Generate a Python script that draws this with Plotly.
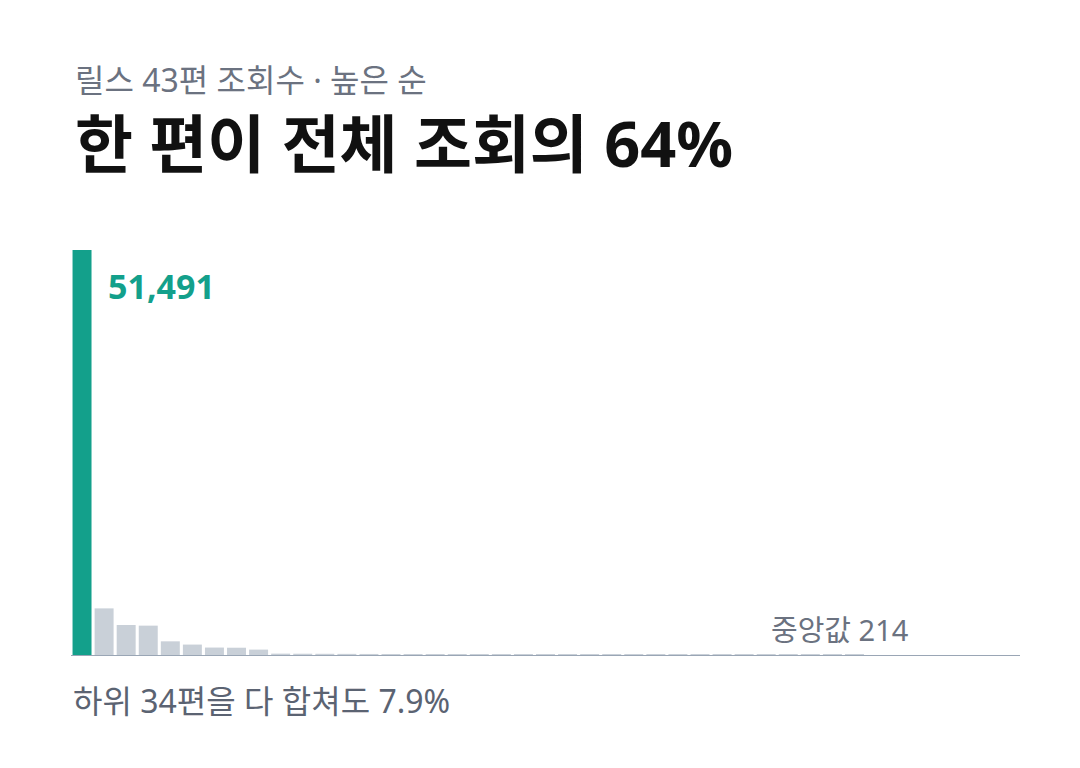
import plotly.graph_objects as go

# 릴스 43편 조회수, 높은 순
ranks = list(range(1, 44))
views = [51491, 6040, 3930, 3850, 1860, 1450, 1070, 1050, 810, 300,
         290, 280, 270, 260, 250, 245, 240, 232, 228, 222,
         218, 214, 205, 198, 190, 183, 176, 170, 164, 158,
         152, 147, 142, 137, 132, 128, 124, 120, 116, 112,
         108, 104, 100]

TEAL = "#13a08b"
GRAY_BAR = "#c9d0d8"
FONT = "Noto Sans, Noto Sans CJK KR, sans-serif"

# page body adds ~8px around the figure
OFF = 8
W, H = 1064, 752
M = dict(l=63, r=52, t=242, b=104)
PLOT_H = H - M["t"] - M["b"]


def py(pixel_y):
    """screen pixel row -> paper y"""
    return (H - M["b"] - (pixel_y - OFF)) / PLOT_H


colors = [TEAL] + [GRAY_BAR] * (len(views) - 1)

fig = go.Figure(go.Bar(
    x=ranks, y=views,
    marker=dict(color=colors, line=dict(width=0)),
    hoverinfo="skip",
))

fig.add_shape(type="line", xref="paper", yref="y", x0=0, x1=1, y0=0, y1=0,
              line=dict(color="#9aa6b5", width=2))

fig.add_annotation(x=1, y=views[0], xref="x", yref="y",
                   text=f"<b>{views[0]:,}</b>", showarrow=False,
                   xanchor="left", yanchor="top", xshift=24, yshift=-11,
                   font=dict(family=FONT, size=34, color=TEAL))

fig.add_annotation(x=0.885, y=0, xref="paper", yref="y",
                   text="중앙값 214", showarrow=False,
                   xanchor="right", yanchor="bottom", yshift=5,
                   font=dict(family=FONT, size=29, color="#6b7280"))

fig.add_annotation(x=0, y=py(700), xref="paper", yref="paper",
                   text="하위 34편을 다 합쳐도 7.9%", showarrow=False,
                   xanchor="left", yanchor="middle",
                   font=dict(family=FONT, size=32, color="#5b6372"))

fig.add_annotation(x=0, y=py(80), xref="paper", yref="paper", xshift=2,
                   text="릴스 43편 조회수 · 높은 순", showarrow=False,
                   xanchor="left", yanchor="middle",
                   font=dict(family=FONT, size=32, color="#6b7280"))

fig.add_annotation(x=0, y=py(142), xref="paper", yref="paper", xshift=2,
                   text="<b>한 편이 전체 조회의 64%</b>", showarrow=False,
                   xanchor="left", yanchor="middle",
                   font=dict(family=FONT, size=63, color="#111111"))

fig.update_layout(
    width=W, height=H, margin=M,
    paper_bgcolor="white", plot_bgcolor="white",
    bargap=0.14, showlegend=False,
    xaxis=dict(range=[0.5, 43.5], visible=False, fixedrange=True),
    yaxis=dict(range=[0, views[0]], visible=False, fixedrange=True),
)

fig.write_html("out.html")
